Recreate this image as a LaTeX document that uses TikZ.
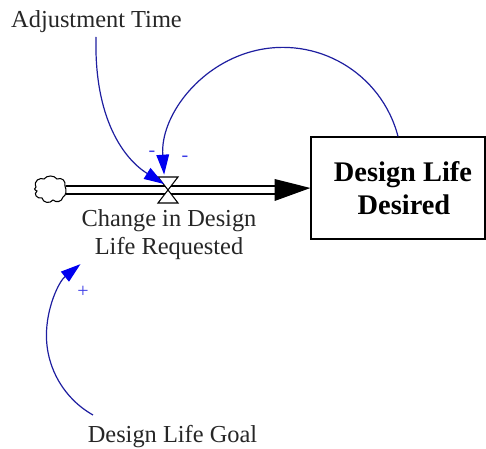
\documentclass[tikz,border=0pt]{standalone}
\usepackage{fontspec}
\setmainfont{Liberation Serif}
\usetikzlibrary{arrows.meta,calc}
\definecolor{linkblue}{RGB}{30,30,160}
\definecolor{headblue}{RGB}{0,0,240}
\definecolor{signblue}{RGB}{60,60,230}
\begin{document}
\begin{tikzpicture}[x=0.75pt,y=0.75pt,
  lbl/.style={inner sep=0pt,font=\fontsize{18.3}{21}\selectfont,text=black!85},
  link/.style={draw=linkblue,line width=0.9pt,-{Triangle[length=15pt,width=9.5pt,fill=headblue,color=headblue]}},
  sign/.style={inner sep=0pt,text=signblue,font=\fontsize{15}{15}\selectfont},
  stockbox/.style={draw,line width=0.9pt,minimum width=130.5pt,minimum height=76.5pt,inner sep=0pt},
  pipe/.style={line width=0.8pt}]
\useasboundingbox (0,0) rectangle (486,449);
% stock
\node[stockbox] (box) at (398,261) {};
\node[inner sep=0pt,anchor=base,font=\fontsize{21.3}{24}\selectfont\bfseries] (dl1) at (403,267) {Design Life};
\node[inner sep=0pt,anchor=base,font=\fontsize{21.3}{24}\selectfont\bfseries] (dl2) at (404,234) {Desired};
% cloud
\coordinate (cl) at (49,259);
\draw[line width=0.8pt] (36,262) .. controls (33,268) and (40,272) .. (44,270)
  .. controls (47,274) and (54,274) .. (57,270)
  .. controls (62,272) and (66,268) .. (65,263)
  .. controls (67,259) and (66,253) .. (63,252)
  .. controls (62,247) and (56,246) .. (53,249)
  .. controls (50,245) and (43,246) .. (42,251)
  .. controls (37,250) and (33,255) .. (37,258)
  .. controls (34,259) and (34,261) .. (36,262) -- cycle;
% pipe
\coordinate (pipeL) at (66,259);
\coordinate (pipeR) at (276,259);
\draw[pipe] ([yshift=3]pipeL) -- ([yshift=3]pipeR);
\draw[pipe] ([yshift=-3]pipeL) -- ([yshift=-3]pipeR);
\fill ([xshift=-1]pipeR |- 0,270) -- (box.west) -- ([xshift=-1]pipeR |- 0,248) -- cycle;
% valve
\coordinate (valve) at (168,259);
\draw[fill=white,line width=0.8pt] (valve) -- ($(valve)+(-10,13)$) -- ($(valve)+(10,13)$) -- cycle;
\draw[fill=white,line width=0.8pt] (valve) -- ($(valve)+(-10,-13)$) -- ($(valve)+(10,-13)$) -- cycle;
% labels
\node[lbl,anchor=base] (adj) at (96.5,421) {Adjustment Time};
\node[lbl,anchor=base] (ch1) at (169,222) {Change in Design};
\node[lbl,anchor=base] (ch2) at (169,194) {Life Requested};
\node[lbl,anchor=base] (goal) at (172.5,6) {Design Life Goal};
% links
\coordinate (adjstart) at (96,412);
\coordinate (vtipA) at (164,265);
\draw[link] (adjstart) .. controls (94,330) and (124,290) .. (vtipA);
\draw[link] (box.north) arc[start angle=14.6, end angle=184, radius=89.25pt];
\coordinate (goalstart) at (93,34);
\draw[link] (goalstart) arc[start angle=240.6, end angle=128.9, radius=68.6pt];
% signs
\node[sign] (m1) at (152,295) {-};
\node[sign] (m2) at (185,290) {-};
\node[sign] (p1) at (83,157) {+};
\end{tikzpicture}
\end{document}
